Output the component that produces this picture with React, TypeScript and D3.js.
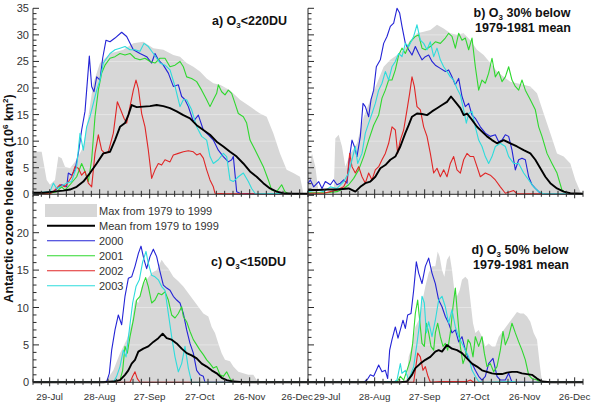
import React from "react";
import * as d3 from "d3";

type P = [number, number];

// ---------- tick labels ----------
const monthLabels = ["29-Jul", "28-Aug", "27-Sep", "27-Oct", "26-Nov", "26-Dec"];
const monthDays = [210, 240, 270, 300, 330, 360];
const legendLabels = ["Max from 1979 to 1999", "Mean from 1979 to 1999", "2000", "2001", "2002", "2003"];
const yearNames = ["2000", "2001", "2002", "2003"];

// ---------- panel a) O3 < 220 DU ----------
const maxA: P[] = [[200,8.0],[205.2,8.0],[208.2,2.7],[210.2,1.8],[213.2,2.7],[215.2,7.1],[217.2,6.8],[219.2,5.2],[222.2,4.9],[226.2,6.5],[230.2,9.0],[233.2,14.6],[236.2,20.9],[240.2,24.7],[246.2,26.5],[254.2,27.2],[260.2,28.4],[266.2,28.7],[272.2,27.5],[278.2,27.2],[284.2,26.2],[288.2,25.9],[292.2,24.7],[296.2,24.0],[300.2,23.1],[304.2,21.8],[308.2,20.9],[312.2,20.6],[318.2,19.6],[324.2,17.8],[330.2,16.5],[336.2,15.2],[340.2,14.6],[344.2,11.5],[348.2,7.7],[352.2,4.6],[356.2,4.0],[360.2,3.3],[362.2,0.2],[365,0]];
const meanA: P[] = [[200,0.3],[206.2,0.3],[212.2,0.5],[218.2,0.7],[222.2,0.9],[226.2,1.4],[230.2,2.4],[234.2,4.0],[238.2,5.8],[242.2,7.7],[246.2,8.0],[249.2,10.2],[252.2,12.7],[255.2,13.4],[257.2,14.9],[259.2,16.8],[262.2,16.4],[266.2,16.5],[270.2,16.6],[274.2,16.8],[278.2,16.6],[282.2,16.2],[286.2,15.6],[290.2,14.9],[294.2,14.3],[298.2,13.0],[302.2,12.1],[306.2,11.2],[310.2,9.9],[314.2,9.0],[318.2,8.0],[322.2,7.1],[326.2,5.8],[330.2,4.3],[334.2,3.3],[338.2,2.1],[342.2,1.1],[346.2,0.5],[350.2,0.2],[356.2,0.1],[365,0.1]];
const y2000A: P[] = [[200,0.3],[208.2,0.2],[212.2,0.5],[217.2,1.8],[220.2,1.4],[221.2,4.0],[223.2,3.6],[225.2,4.6],[227.2,7.7],[229.2,12.1],[231.2,15.6],[232.6,21.2],[233.8,26.0],[235.2,20.3],[236.6,19.3],[238.2,22.1],[240.2,21.5],[241.8,25.6],[243.8,29.0],[246.2,28.7],[249.2,29.4],[253.2,30.5],[256.2,29.7],[260.2,27.2],[264.2,26.5],[268.2,25.9],[271.2,24.7],[273.2,26.5],[275.2,25.3],[278.2,24.3],[281.2,22.8],[284.2,20.3],[287.2,20.6],[289.2,18.4],[291.2,17.8],[293.2,16.5],[296.2,13.7],[299.2,14.9],[302.2,12.1],[305.2,11.2],[308.2,10.2],[311.2,8.3],[314.2,7.1],[317.2,6.1],[319.2,6.5],[320.2,7.1],[322.2,0.5],[324.2,0.2],[332.2,0.1],[365,0.1]];
const y2001A: P[] = [[200,0.1],[210.2,0.2],[214.2,0.5],[217.2,1.4],[219.2,0.8],[222.2,1.8],[226.2,3.3],[229.2,5.8],[231.2,4.3],[233.2,2.4],[235.2,6.5],[237.2,14.6],[239.2,19.6],[241.2,22.8],[243.2,24.3],[246.2,25.6],[249.2,25.9],[252.2,26.5],[255.2,26.2],[258.2,26.5],[261.2,25.6],[264.2,25.3],[267.2,25.6],[270.2,25.0],[273.2,24.7],[276.2,25.6],[279.2,25.6],[282.2,24.0],[285.2,24.3],[288.2,25.0],[290.2,24.0],[292.2,22.1],[295.2,21.8],[298.2,21.2],[301.2,19.6],[304.2,17.8],[306.2,16.5],[308.2,17.8],[310.2,19.0],[311.2,20.6],[313.2,19.3],[315.2,18.7],[317.2,19.6],[319.2,19.0],[321.2,17.1],[323.2,15.2],[326.2,14.6],[328.2,13.4],[330.2,10.2],[332.2,9.0],[335.2,7.1],[338.2,5.2],[341.2,2.7],[343.2,0.8],[346.2,0.5],[349.2,1.8],[351.2,0.5],[353.2,0.1],[365,0.1]];
const y2002A: P[] = [[200,0.1],[210.2,0.1],[212.2,0.5],[216.2,1.8],[219.2,1.4],[223.2,3.3],[225.2,5.2],[227.2,4.9],[229.2,3.6],[231.2,4.3],[233.2,2.1],[235.2,1.4],[237.2,7.7],[239.2,11.2],[241.2,8.3],[243.2,7.7],[245.2,8.0],[248.2,11.5],[250.6,17.4],[252.6,15.9],[254.6,14.3],[256.2,13.4],[258.2,16.5],[260.2,19.6],[261.8,21.5],[263.2,19.9],[265.2,15.2],[267.2,12.7],[269.2,8.3],[271.2,3.0],[273.2,4.6],[275.2,5.8],[277.2,5.5],[279.2,6.5],[282.2,6.1],[284.2,7.4],[287.2,7.7],[290.2,8.0],[293.2,8.2],[296.2,8.0],[298.2,7.4],[300.2,7.7],[302.2,6.8],[304.2,4.6],[306.2,2.7],[308.2,1.4],[309.2,0.2],[316.2,0.1],[365,0.1]];
const y2003A: P[] = [[200,0.2],[210.2,0.5],[212.2,2.1],[214.2,1.1],[216.2,1.4],[220.2,2.1],[223.2,2.4],[226.2,5.2],[228.2,11.5],[230.2,8.3],[232.2,12.7],[234.2,14.6],[236.2,17.1],[238.2,19.6],[240.2,21.5],[242.2,24.7],[244.2,25.6],[246.2,26.5],[249.2,27.2],[252.2,27.5],[255.2,27.8],[258.2,27.2],[261.2,27.2],[264.2,26.9],[266.6,28.4],[269.2,27.8],[272.2,26.5],[276.2,24.7],[279.2,24.3],[282.2,23.4],[285.2,20.3],[288.2,16.5],[290.2,17.8],[292.2,17.8],[295.2,15.9],[298.2,12.7],[301.2,10.9],[304.2,10.2],[306.2,7.1],[308.2,5.8],[311.2,6.5],[314.2,7.7],[316.2,7.1],[318.2,2.7],[320.2,2.4],[323.2,3.3],[326.2,4.0],[329.2,2.4],[331.2,1.1],[333.2,0.2],[365,0.1]];

// ---------- panel b) O3 30% below 1979-1981 mean ----------
const maxB: P[] = [[200,4.0],[202.4,7.7],[204.4,5.2],[206.4,0.2],[215.4,0.2],[216.4,10.5],[218.4,11.2],[220.4,9.0],[222.4,5.2],[225.4,7.7],[229.4,9.6],[233.4,14.6],[237.4,17.8],[241.4,20.9],[245.4,24.0],[249.4,25.3],[253.4,26.2],[257.4,27.2],[261.4,29.0],[265.4,30.3],[269.4,30.6],[273.4,30.9],[277.4,31.9],[281.4,31.2],[285.4,30.3],[289.4,30.0],[293.4,30.3],[297.4,29.0],[301.4,27.2],[305.4,26.2],[309.4,24.7],[313.4,23.1],[317.4,22.1],[321.4,21.2],[325.4,20.9],[329.4,20.6],[333.4,20.3],[337.4,19.0],[341.4,15.2],[345.4,11.5],[349.4,7.7],[353.4,7.1],[357.4,5.8],[360.4,2.7],[363.4,0.5],[365,0.1]];
const meanB: P[] = [[200,0.8],[205.4,0.8],[211.4,0.9],[217.4,0.9],[224.4,1.1],[228.4,0.5],[231.4,1.4],[234.4,2.1],[237.4,2.4],[240.4,3.3],[243.4,4.9],[246.4,5.5],[249.4,6.5],[252.4,7.1],[255.4,9.0],[258.4,11.5],[260.4,13.0],[262.4,14.6],[265.4,15.2],[268.4,15.1],[271.4,14.9],[274.4,15.6],[277.4,16.2],[280.4,16.8],[283.4,17.4],[285.8,18.4],[288.4,17.4],[291.4,16.2],[293.4,14.9],[295.4,15.2],[298.4,14.0],[301.4,12.7],[304.4,11.8],[307.4,10.9],[310.4,10.2],[313.4,9.6],[317.4,10.2],[321.4,9.6],[325.4,9.0],[329.4,8.3],[333.4,7.7],[336.4,6.5],[339.4,4.9],[342.4,3.3],[345.4,2.1],[349.4,1.1],[353.4,0.5],[357.4,0.2],[365,0.1]];
const y2000B: P[] = [[200,2.1],[201.4,2.7],[203.4,1.4],[206.4,2.4],[208.4,1.1],[210.4,2.4],[213.4,1.8],[215.4,2.7],[217.4,1.8],[219.4,2.1],[221.4,2.7],[223.4,2.1],[225,7.1],[226.4,10.2],[227.8,9.0],[229.4,7.1],[231.4,10.9],[233,17.1],[234.4,16.5],[236.4,14.6],[237.8,17.8],[239.4,19.6],[241,24.0],[243.4,25.3],[245.4,28.4],[247.4,29.7],[249.4,31.6],[251.4,32.2],[253.4,35.0],[255,34.1],[256.4,31.6],[258.4,28.4],[260.4,27.2],[262.4,26.2],[264.4,27.8],[266.4,26.5],[268.4,25.3],[270.4,25.9],[272.4,26.2],[274.4,25.0],[276.4,24.3],[279.4,23.7],[282.4,23.1],[284.4,23.4],[286.4,22.1],[288.4,20.6],[290.4,21.8],[292.4,18.4],[294.4,16.5],[296.4,17.1],[298.4,14.9],[300.4,14.3],[303.4,12.7],[306.4,11.5],[309.4,10.9],[312.4,11.2],[314.4,9.9],[316.4,10.2],[318.4,11.2],[320.4,10.9],[322.4,8.3],[324.4,4.6],[326.4,6.5],[328.4,6.8],[330.4,6.5],[332.4,3.3],[334.4,1.8],[336.4,1.1],[339.4,0.2],[343.4,0.1],[365,0.1]];
const y2001B: P[] = [[200,0.3],[211.4,0.3],[217.4,0.5],[221.4,1.1],[224.4,1.8],[227.4,3.0],[230.4,4.6],[233.4,7.1],[236.4,10.2],[239.4,13.0],[242.4,14.9],[244.4,18.1],[246.4,19.6],[248.4,21.5],[250.4,21.5],[252.4,23.4],[254.4,26.2],[256.4,27.5],[258.4,26.5],[261.4,28.7],[264.4,29.7],[266.4,30.0],[268.4,27.5],[270.4,27.2],[273.4,27.8],[276.4,28.7],[279.4,28.4],[282.4,29.4],[284.4,30.3],[286.4,29.7],[288.4,27.5],[290.4,30.3],[292.4,29.0],[294.4,29.4],[296.4,27.2],[298.4,29.4],[300.4,24.0],[302.4,19.6],[304.4,21.5],[306.4,20.9],[308.4,22.8],[310.4,25.6],[312.4,22.1],[314.4,23.1],[316.4,21.2],[318.4,22.1],[320.4,24.0],[322.4,21.5],[324.4,20.3],[326.4,19.6],[328.4,21.5],[330.4,19.6],[333.4,17.8],[336.4,15.9],[338.4,12.7],[340.4,10.9],[343.4,7.7],[346.4,5.8],[349.4,4.0],[352.4,0.8],[355.4,0.2],[359.4,0.1],[365,0.1]];
const y2002B: P[] = [[200,0.2],[209.4,0.2],[213.4,0.5],[217.4,0.8],[221.4,1.4],[223.4,2.7],[225,7.7],[226.4,5.2],[228.4,4.0],[230.4,5.2],[232.4,3.3],[234.4,2.1],[236.4,4.0],[238.4,2.7],[240.4,4.6],[242.4,5.2],[244.4,6.5],[246.4,7.7],[248.4,9.6],[250.4,12.7],[252.4,12.1],[253.8,7.7],[255.4,10.2],[257.4,12.1],[259.4,15.9],[261,19.0],[262.4,22.1],[263.8,20.3],[265.4,16.5],[267.4,15.9],[269.4,12.7],[271.4,10.9],[273.4,7.7],[275.4,4.0],[277.4,4.9],[279.4,3.3],[281.4,4.6],[283.4,3.3],[285.4,5.8],[287.4,7.1],[289.4,4.6],[291.4,4.0],[293.4,6.5],[295.4,7.7],[297.4,7.1],[299.4,7.1],[301.4,5.2],[303.4,3.3],[306.4,4.0],[309.4,3.6],[312.4,2.7],[315.4,1.4],[318.4,0.2],[323.4,0.7],[325.4,0.1],[365,0.1]];
const y2003B: P[] = [[200,0.5],[205.4,0.8],[209.4,0.5],[213.4,1.4],[217.4,1.1],[221.4,2.4],[224.4,4.0],[226.4,6.5],[228.4,9.0],[229.8,5.8],[232.4,7.7],[234.4,11.5],[236.4,13.4],[238.4,15.2],[240.4,17.1],[242.4,19.6],[244.4,20.9],[246.4,23.1],[248.4,21.5],[250.4,24.0],[252.4,25.0],[254.4,26.5],[256.4,25.9],[258.4,28.4],[260.4,27.8],[263.4,29.7],[265.4,31.9],[267.4,29.0],[269.4,28.4],[271.4,27.2],[273.4,28.7],[275.4,25.9],[277.4,27.5],[279.4,25.3],[281.4,24.0],[283.4,23.1],[285.4,22.1],[287.4,21.5],[289.4,19.9],[291.4,18.7],[293.4,15.9],[295,13.4],[296.4,15.2],[298.4,15.6],[300.4,12.7],[302.4,10.2],[304.4,9.0],[306.4,7.1],[308.4,5.8],[310.4,7.1],[312.4,9.0],[315.4,9.6],[318.4,9.0],[320.4,7.1],[323.4,5.8],[326.4,5.8],[329.4,4.0],[332.4,2.7],[335.4,1.4],[338.4,0.5],[341.4,0.1],[365,0.1]];

// ---------- panel c) O3 < 150 DU ----------
const maxC: P[] = [[200,0],[240.2,0],[242.2,0.1],[244.2,0.3],[248.2,1.6],[252.2,3.9],[256.2,5.7],[259.2,7.9],[261.2,11.0],[263.2,10.6],[265.2,12.8],[268.2,13.7],[271.2,14.6],[274.2,15.0],[277.2,16.4],[279.2,15.7],[281.2,15.2],[284.2,14.1],[287.2,13.5],[290.2,12.8],[293.2,11.9],[296.2,11.0],[299.2,10.1],[302.2,9.2],[305.2,8.8],[307.2,7.4],[309.2,6.6],[311.2,5.2],[313.2,3.9],[315.2,3.0],[318.2,2.8],[320.2,2.1],[323.2,1.4],[326.2,1.2],[329.2,1.0],[332.2,1.0],[334.2,0.3],[336.2,0],[365,0]];
const meanC: P[] = [[200,0],[242.2,0],[248.2,0.1],[252.2,0.3],[255.2,1.0],[257.2,1.6],[259.2,2.5],[261.2,3.0],[263.2,4.1],[266.2,4.5],[269.2,4.8],[272.2,5.4],[275.2,5.9],[277.8,6.5],[280.2,5.9],[283.2,5.7],[286.2,5.2],[289.2,4.5],[292.2,3.9],[295.2,3.6],[298.2,3.2],[301.2,2.5],[304.2,2.1],[307.2,1.6],[310.2,1.2],[313.2,0.6],[316.2,0.3],[320.2,0.1],[326.2,0],[365,0]];
const y2000C: P[] = [[200,0],[240.2,0],[244.2,0.1],[245.8,1.2],[247.2,4.3],[249.2,7.0],[251.2,9.0],[253.2,7.7],[255.2,11.5],[257.2,13.9],[259.2,14.1],[261.2,15.5],[263.2,17.2],[264.8,18.2],[266.6,16.4],[268.2,15.2],[270.2,16.8],[272.2,17.8],[274.2,16.8],[276.2,14.8],[278.2,13.0],[280.2,12.6],[282.2,12.3],[284.2,11.5],[286.2,11.0],[288.2,10.6],[290.2,9.2],[292.2,7.0],[294.2,5.2],[296.2,3.9],[298.2,1.6],[300.2,1.0],[302.2,0.8],[303.2,0],[365,0]];
const y2001C: P[] = [[200,0],[248.2,0],[252.2,0.3],[253.8,1.6],[255.2,4.8],[256.6,3.9],[258.2,6.1],[260.2,8.3],[262.2,11.0],[264.2,11.5],[266.2,13.2],[267.6,14.0],[269.2,12.8],[271.2,10.6],[273.2,11.0],[275.2,11.9],[277.2,11.7],[279.2,12.1],[281.2,11.0],[283.2,9.0],[285.2,8.6],[287.2,9.2],[289.2,10.1],[290.2,8.8],[292.2,8.1],[294.2,6.8],[296.2,5.7],[298.2,5.0],[300.2,4.3],[302.2,3.7],[304.2,3.0],[306.2,2.5],[308.2,1.9],[310.2,2.1],[312.2,1.0],[314.2,0.8],[316.2,1.4],[318.2,0.5],[320.2,0],[365,0]];
const y2002C: P[] = [[200,0],[258.2,0],[259.8,0.8],[261.2,1.4],[262.6,0.5],[264.2,0],[365,0]];
const y2003C: P[] = [[200,0],[248.2,0],[250.2,0.8],[252.2,2.1],[254.2,4.3],[255.8,3.4],[257.8,7.0],[259.8,10.6],[261.8,12.8],[263.8,13.7],[265.8,16.1],[267.8,17.5],[269.2,15.9],[271.2,14.3],[273.2,14.1],[275.2,13.7],[277.2,12.8],[279.2,12.3],[281.2,9.2],[283.2,6.1],[285.2,3.4],[287.2,1.4],[289.2,2.5],[291.2,4.8],[293.2,1.9],[295.2,0],[365,0]];

// ---------- panel d) O3 50% below 1979-1981 mean ----------
const maxD: P[] = [[200,0],[258.4,0],[259.4,0.8],[260.4,3.4],[262.4,4.8],[264.4,7.4],[266.4,8.3],[268.4,10.6],[270.4,12.8],[272.4,14.6],[274.4,15.5],[276.4,15.5],[277.8,17.5],[279,16.8],[280.4,15.0],[281.8,14.1],[283.4,16.4],[285,17.0],[286.4,15.0],[287.8,12.3],[289.4,11.5],[291,12.3],[292.4,13.7],[294.4,14.1],[296,13.7],[297.4,11.0],[299,7.9],[300.4,6.6],[302.4,7.0],[304.4,6.1],[306.4,4.8],[308.4,5.2],[310.4,4.8],[312.4,4.8],[314.4,6.1],[317.4,7.0],[320.4,7.9],[323.4,8.8],[325.4,9.4],[327.4,9.2],[329.4,9.2],[331.4,8.8],[333.4,8.1],[335.4,6.6],[337.4,5.7],[339,2.5],[340.4,0],[365,0]];
const meanD: P[] = [[200,0],[255.4,0],[259.4,0.1],[262.4,1.0],[264.4,1.9],[267.4,2.5],[270.4,3.0],[273.4,3.4],[276.4,4.1],[278.4,4.3],[280.4,4.1],[283.4,5.0],[286.4,4.5],[289.4,4.3],[292.4,3.9],[295.4,3.2],[298.4,2.5],[301.4,2.1],[304.4,1.6],[307.4,1.4],[310.4,1.2],[313.4,1.1],[316.4,1.1],[319.4,1.3],[322.4,1.4],[325.4,1.4],[328.4,1.2],[331.4,1.1],[334.4,1.0],[337.4,0.5],[340.4,0.1],[345.4,0],[365,0]];
const y2000D: P[] = [[200,0],[233.4,0],[235.4,0.3],[237.4,1.0],[239.4,0.8],[242.4,2.3],[244.4,1.4],[246.4,1.6],[247.8,0.5],[249,4.3],[250.4,5.7],[252.4,7.4],[254,5.9],[255.4,7.0],[257,8.3],[258.4,7.2],[259.8,9.0],[261.8,9.2],[263.4,12.3],[265,16.1],[266.4,14.6],[268.4,13.2],[270.4,15.5],[272.4,16.6],[274.4,14.6],[276.4,13.2],[278.4,11.0],[280.4,10.1],[282.4,8.8],[284.4,7.9],[286.4,6.6],[288.4,7.0],[290.4,5.4],[292.4,6.1],[294.4,4.3],[296.4,3.0],[298.4,2.5],[300.4,1.6],[302.4,0.8],[304.4,0.3],[306.4,0.8],[308.4,2.5],[311,3.2],[313.4,0.8],[315.4,0.3],[318.4,0.3],[320.4,1.2],[322.4,0],[365,0]];
const y2001D: P[] = [[200,0],[253.4,0],[255.4,0.8],[257.4,0.3],[259.4,1.6],[261.4,3.0],[262.8,5.2],[264.4,9.2],[265.8,11.0],[267,8.3],[268.4,5.2],[269.8,4.8],[271,7.9],[272.4,6.6],[273.8,4.8],[275.4,4.3],[276.4,6.6],[277.8,7.9],[279.4,6.1],[281,4.8],[282.4,5.2],[283.8,4.3],[285.4,6.6],[287,10.1],[288.4,12.6],[289.8,8.8],[291.4,4.8],[293,2.5],[294.4,3.4],[296,5.7],[297.4,5.2],[299,3.4],[300.4,6.1],[302.4,4.8],[304.4,6.1],[305.8,3.9],[307.4,2.1],[309.4,2.5],[311.4,1.4],[313.4,2.1],[315.4,4.3],[317,6.8],[318.4,5.0],[320.4,6.1],[322.4,7.9],[324.4,6.6],[326.4,5.4],[328.4,4.3],[330.4,3.0],[332.4,1.0],[334.4,0.5],[337.4,0.3],[339.4,0],[365,0]];
const y2002D: P[] = [[200,0],[263.4,0],[264.4,1.6],[265.8,3.9],[267.4,3.4],[269,1.6],[270.4,2.1],[272,0.8],[273.4,0],[279.4,0.1],[295.4,0.1],[297.4,0.3],[299.4,0],[365,0]];
const y2003D: P[] = [[200,0],[245.4,0],[248.4,0.1],[251.4,0],[253.4,0.3],[255.4,2.5],[256.4,1.2],[258.4,1.6],[260.4,0.3],[263.4,2.1],[265.4,5.2],[267,7.9],[268.4,11.5],[269.8,10.6],[271,6.6],[272.4,8.1],[274.4,6.1],[276.4,8.3],[278.4,11.0],[280.4,11.5],[282.4,10.1],[284.4,7.9],[286.4,9.7],[288.4,7.4],[290.4,6.1],[292.4,5.2],[294.4,4.3],[296.4,3.4],[298.4,1.6],[300.4,0.8],[302.4,0.1],[305.4,0],[323.4,0.1],[325.4,0],[365,0]];

// ---------- styling ----------
const yearColors = ["#2323d6", "#2fd82f", "#e02626", "#2edcdc"];
const grayFill = "#d7d7d7";
const FONT = "'Liberation Sans', Arial, Helvetica, sans-serif";
const axisColor = "#2a2a2a";
const textColor = "#333";

type PanelSpec = {
  key: string;
  left: number;
  top: number;
  bottom: number;
  yMax: number;
  showYLabels: boolean;
  showXLabels: boolean;
  yLabelMax: number;
  max: P[];
  mean: P[];
  years: P[][];
};

const PANEL_W = 275;
const panels: PanelSpec[] = [
  { key: "a", left: 33, top: 8.3, bottom: 194.3, yMax: 35, showYLabels: true, showXLabels: false, yLabelMax: 35, max: maxA, mean: meanA, years: [y2000A, y2001A, y2002A, y2003A] },
  { key: "b", left: 308, top: 8.3, bottom: 194.3, yMax: 35, showYLabels: false, showXLabels: false, yLabelMax: 35, max: maxB, mean: meanB, years: [y2000B, y2001B, y2002B, y2003B] },
  { key: "c", left: 33, top: 195.3, bottom: 382.3, yMax: 25, showYLabels: true, showXLabels: true, yLabelMax: 20, max: maxC, mean: meanC, years: [y2000C, y2001C, y2002C, y2003C] },
  { key: "d", left: 308, top: 195.3, bottom: 382.3, yMax: 25, showYLabels: false, showXLabels: true, yLabelMax: 20, max: maxD, mean: meanD, years: [y2000D, y2001D, y2002D, y2003D] },
];

function Panel({ p }: { p: PanelSpec }) {
  const x = d3.scaleLinear().domain([200, 365]).range([p.left, p.left + PANEL_W]);
  const y = d3.scaleLinear().domain([0, p.yMax]).range([p.bottom, p.top]);
  const area = d3.area<P>().x((d) => x(d[0])).y0(y(0)).y1((d) => y(d[1]));
  const line = d3.line<P>().x((d) => x(d[0])).y((d) => y(d[1]));
  const yTicks = d3.range(0, p.yMax + 0.001, 1);
  const xTicks = d3.range(200, 366, 5);
  const gridVals = d3.range(5, p.yMax, 5);
  const isLeft = p.left < 100;
  return (
    <g>
      <path d={area(p.max) || ""} fill={grayFill} stroke="none" />
      {gridVals.map((v) => (
        <line key={"g" + v} x1={p.left} x2={p.left + PANEL_W} y1={y(v)} y2={y(v)} stroke="#ffffff" strokeOpacity={0.35} strokeWidth={1} />
      ))}
      {p.years.map((s, i) => (
        <path key={"yr" + i} d={line(s) || ""} fill="none" stroke={yearColors[i]} strokeWidth={1.1} strokeLinejoin="round" />
      ))}
      <path d={line(p.mean) || ""} fill="none" stroke="#000" strokeWidth={1.9} strokeLinejoin="round" />
      {/* y axis */}
      <line x1={p.left} x2={p.left} y1={p.top} y2={p.bottom} stroke={axisColor} strokeWidth={1} />
      {yTicks.map((v) => {
        const major = Math.round(v) % 5 === 0;
        return <line key={"yt" + v} x1={p.left} x2={p.left + (major ? 6 : 3.5)} y1={y(v)} y2={y(v)} stroke={axisColor} strokeWidth={1} />;
      })}
      {p.showYLabels &&
        d3.range(0, p.yLabelMax + 0.001, 5).map((v) => (
          <text key={"yl" + v} x={p.left - 4} y={y(v) + 4} textAnchor="end" fontSize={11} fill={textColor} fontFamily={FONT}>
            {v}
          </text>
        ))}
      {/* x axis */}
      <line x1={p.left} x2={p.left + PANEL_W} y1={p.bottom} y2={p.bottom} stroke={axisColor} strokeWidth={1} />
      {xTicks.map((dd) => {
        const major = monthDays.includes(dd);
        return <line key={"xt" + dd} x1={x(dd)} x2={x(dd)} y1={p.bottom - (major ? 5 : 3.5)} y2={p.bottom + (major ? 4 : 2.5)} stroke={axisColor} strokeWidth={1} />;
      })}
      {p.showXLabels
        ? monthDays.map((dd, i) => {
            let shift = 0;
            if (isLeft && i === monthDays.length - 1) shift = -2.5;
            if (!isLeft && i === 0) shift = 2.5;
            return (
              <text key={"xl" + dd} x={x(dd) + shift} y={400} textAnchor="middle" fontSize={9.8} fill={textColor} fontFamily={FONT}>
                {monthLabels[i]}
              </text>
            );
          })
        : null}
    </g>
  );
}

export default function App() {
  const legendY0 = 225.7;
  return (
    <svg width={597} height={405} style={{ display: "block", position: "absolute", left: 0, top: 0, background: "#fff" }} fontFamily={FONT}>
      <rect x={0} y={0} width={597} height={405} fill="#fff" />
      {panels.map((p) => (
        <Panel key={p.key} p={p} />
      ))}

      {/* titles */}
      <g fontFamily={FONT} fontWeight="bold" fontSize={12.5} fill="#111">
        <text x={287} y={24.5} textAnchor="end">
          a) O<tspan fontSize={8} dy={3}>3</tspan>
          <tspan dy={-3}>&lt;220DU</tspan>
        </text>
        <text x={522} y={16.5} textAnchor="middle">
          b) O<tspan fontSize={8} dy={3}>3</tspan>
          <tspan dy={-3}> 30% below</tspan>
        </text>
        <text x={523} y={31.5} textAnchor="middle">1979-1981 mean</text>
        <text x={286} y={265.5} textAnchor="end">
          c) O<tspan fontSize={8} dy={3}>3</tspan>
          <tspan dy={-3}>&lt;150DU</tspan>
        </text>
        <text x={520} y={253.5} textAnchor="middle">
          d) O<tspan fontSize={8} dy={3}>3</tspan>
          <tspan dy={-3}> 50% below</tspan>
        </text>
        <text x={521} y={268.5} textAnchor="middle">1979-1981 mean</text>
      </g>

      {/* y title */}
      <text transform="translate(13,198.5) rotate(-90)" textAnchor="middle" fontFamily={FONT} fontWeight="bold" fontSize={12.5} fill="#111">
        Antarctic ozone hole area (10<tspan fontSize={8} dy={-5}>6</tspan>
        <tspan dy={5}> km</tspan>
        <tspan fontSize={8} dy={-5}>2</tspan>
        <tspan dy={5}>)</tspan>
      </text>

      {/* legend */}
      <g fontFamily={FONT} fontSize={11} fill={textColor}>
        <rect x={45} y={204} width={52} height={13} fill={grayFill} />
        <text x={99} y={215}>{legendLabels[0]}</text>
        <line x1={47} x2={95} y1={legendY0} y2={legendY0} stroke="#000" strokeWidth={1.9} />
        <text x={99} y={legendY0 + 4}>{legendLabels[1]}</text>
        {yearNames.map((nm, i) => (
          <g key={nm}>
            <line x1={47} x2={95} y1={legendY0 + 15 * (i + 1)} y2={legendY0 + 15 * (i + 1)} stroke={yearColors[i]} strokeWidth={1.1} />
            <text x={99} y={legendY0 + 15 * (i + 1) + 4}>{legendLabels[i + 2]}</text>
          </g>
        ))}
      </g>
    </svg>
  );
}
